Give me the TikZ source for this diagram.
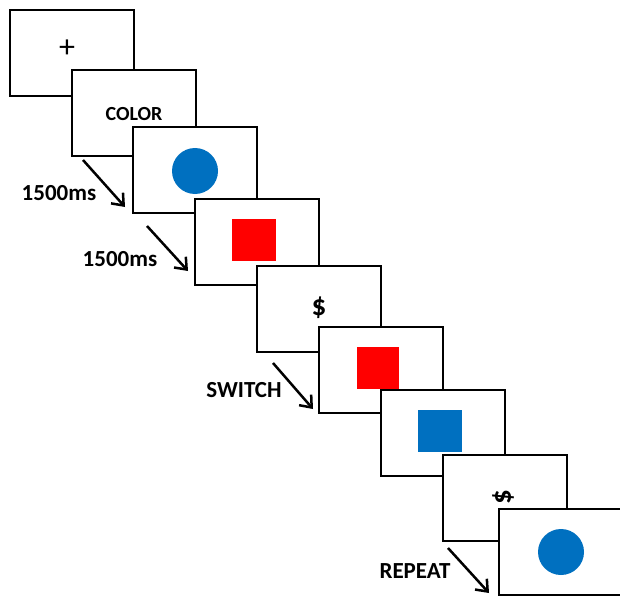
\documentclass[tikz,border=0pt]{standalone}
\usepackage{fontspec}
\setmainfont{Carlito}
\usetikzlibrary{arrows.meta}
\definecolor{stimblue}{HTML}{0070C0}
\definecolor{stimred}{HTML}{FF0000}
\tikzset{
  screen/.style={draw,line width=2pt,fill=white,minimum width=124pt,minimum height=86pt,inner sep=0pt},
  cue/.style={font=\bfseries\fontsize{20}{24}\selectfont},
  delay/.style={font=\bfseries\fontsize{23}{28}\selectfont},
  sign/.style={font=\bfseries\fontsize{29}{34}\selectfont},
  nextarrow/.style={line width=2.5pt,-{Straight Barb[length=10pt,width=16pt,line width=2.5pt]}}
}

\begin{document}
\begin{tikzpicture}[x=1pt,y=-1pt]
    \useasboundingbox (0,0) rectangle (620,596);
    \clip (0,0) rectangle (620,596);
    \begin{scope}
      % screens, each one on top of the one before
      \node[screen] (fix) at (72,53) {};
      \node[font=\fontsize{32}{36}\selectfont] (plus) at (67,49) {+};

      \node[screen] (color) at (134,113) {};
      \node[cue] (colortxt) at (134,114) {COLOR};

      \node[screen] (s3) at (195,170) {};
      \fill[stimblue] (195,171) circle (23);

      \node[screen] (s4) at (257,242) {};
      \fill[stimred] (232,219) rectangle (276,261);

      \node[screen] (s5) at (319,309) {};
      \node[sign] (dollar) at (319,308) {\$};

      \node[screen] (s6) at (381,370) {};
      \fill[stimred] (357,347) rectangle (399,389);

      \node[screen] (s7) at (443,433) {};
      \fill[stimblue] (418,410) rectangle (462,452);

      \node[screen] (s8) at (505,498) {};
      \node[sign,rotate=90] (dollarrot) at (503,497) {\$};

      \node[screen] (s9) at (561,552) {};
      \fill[stimblue] (561,552) circle (23);

      % arrows and timing labels
      \coordinate (a1) at (83,160);  \coordinate (b1) at (125,207);
      \coordinate (a2) at (147,226); \coordinate (b2) at (188,271);
      \coordinate (a3) at (273,363); \coordinate (b3) at (313,409);
      \coordinate (a4) at (448,548); \coordinate (b4) at (489,593);
      \draw[nextarrow] (a1) -- (b1);
      \draw[nextarrow] (a2) -- (b2);
      \draw[nextarrow] (a3) -- (b3);
      \draw[nextarrow] (a4) -- (b4);

      \node[delay] (t1) at (59,193) {1500ms};
      \node[delay] (t2) at (120,259) {1500ms};
      \node[delay] (sw) at (244,390) {SWITCH};
      \node[delay] (rep) at (415,571) {REPEAT};
    \end{scope}
\end{tikzpicture}
\end{document}
